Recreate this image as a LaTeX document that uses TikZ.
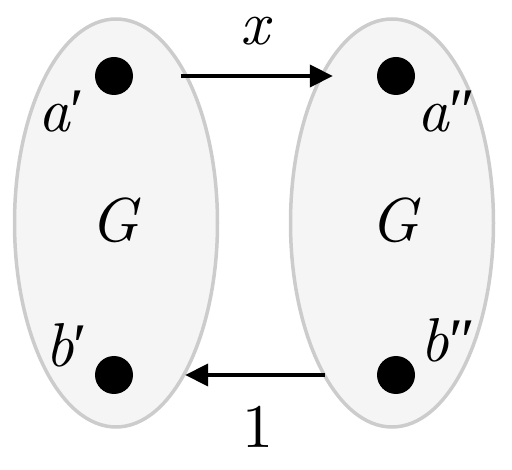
\documentclass[tikz,border=0pt]{standalone}
\usepackage{fontspec}
\newfontfamily\tms{Liberation Serif}
\newfontfamily\lmten{lmroman10-regular.otf}[ItalicFont=lmroman10-italic.otf]
\newcommand{\prm}{{\tms\upshape ′}}
\newcommand{\dprm}{{\tms\upshape ″}}
\usetikzlibrary{arrows.meta,shapes.geometric}
\tikzset{
  group/.style={ellipse, draw=black!20, fill=black!4, line width=3.5pt, inner sep=0pt, minimum width=203pt, minimum height=408pt},
  dot/.style={circle, fill=black, inner sep=0pt, minimum size=38pt},
  lbl/.style={inner sep=0pt, anchor=base, font=\lmten\fontsize{62}{72}\selectfont\itshape},
  num/.style={inner sep=0pt, anchor=base, font=\lmten\fontsize{62}{72}\selectfont},
  conn/.style={line width=4pt, -{Triangle[length=23pt,width=22pt]}}
}
\begin{document}
\begin{tikzpicture}[x=1pt,y=-1pt]
\useasboundingbox (0,0) rectangle (512,470);
\node[group] (g1) at (116,223) {};
\node[group] (g2) at (392,223) {};
\node[dot] (a1) at (114,76) {};
\node[dot] (b1) at (114,375) {};
\node[dot] (a2) at (396,76) {};
\node[dot] (b2) at (396,375) {};
\node[lbl] (la1) at (61.5,132) {a\prm};
\node[lbl] (la2) at (446.5,132) {a\dprm};
\node[lbl] (lb1) at (66.5,367) {b\prm};
\node[lbl] (lb2) at (448,362) {b\dprm};
\node[lbl] (G1) at (114,242) {G};
\node[lbl] (G2) at (394,242) {G};
\draw[conn, shorten <=48pt, shorten >=44pt] (a1) -- (a2);
\draw[conn, shorten <=52pt, shorten >=52pt] (b2) -- (b1);
\node[lbl] (lx) at (254.5,45) {x};
\node[num] (l1) at (257.5,448) {1};
\end{tikzpicture}
\end{document}
